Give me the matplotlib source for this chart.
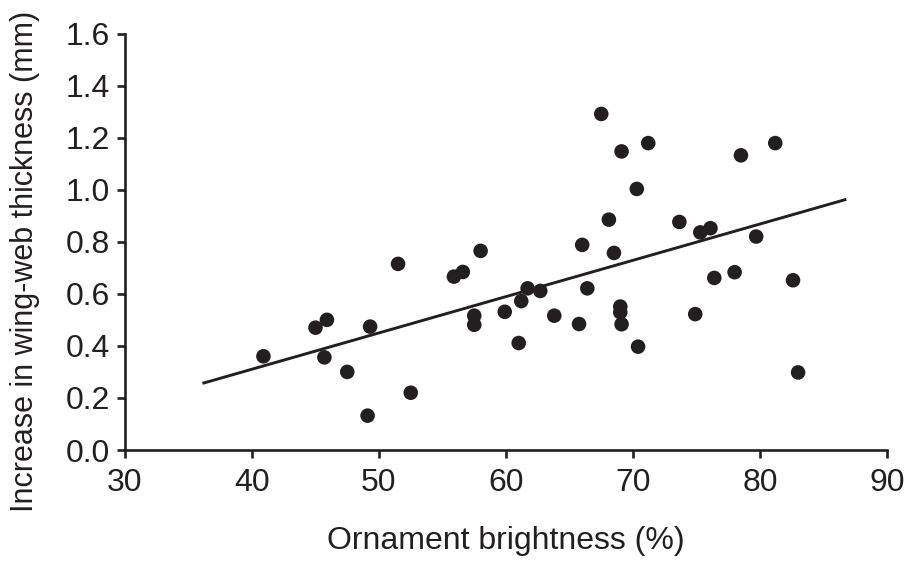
import matplotlib
matplotlib.use("Agg")
import matplotlib.pyplot as plt

brightness = [40.9, 45.0, 45.9, 45.7, 47.5, 49.3, 49.1, 51.5, 52.5, 55.9, 56.6,
              58.0, 57.5, 57.5, 59.9, 61.0, 61.2, 61.7, 62.7, 63.8, 65.75, 66.0,
              66.4, 67.5, 68.1, 68.5, 69.0, 69.0, 69.1, 69.1, 70.3, 70.4, 71.2,
              73.65, 74.9, 75.3, 76.1, 76.4, 78.0, 78.5, 79.7, 81.2, 82.6, 83.0]
thickness = [0.36, 0.47, 0.50, 0.356, 0.30, 0.474, 0.132, 0.715, 0.22, 0.666, 0.684,
             0.765, 0.516, 0.481, 0.531, 0.411, 0.572, 0.621, 0.611, 0.516, 0.484, 0.788,
             0.621, 1.291, 0.885, 0.757, 0.551, 0.529, 0.483, 1.147, 1.003, 0.397, 1.179,
             0.876, 0.522, 0.836, 0.852, 0.661, 0.683, 1.132, 0.820, 1.179, 0.652, 0.298]

fit_x = [36.1, 86.8]
fit_y = [0.256, 0.963]

x_ticks = [30, 40, 50, 60, 70, 80, 90]
y_ticks = [0.0, 0.2, 0.4, 0.6, 0.8, 1.0, 1.2, 1.4, 1.6]

ink = "#231f20"
plt.rcParams['font.family'] = ['Liberation Sans', 'DejaVu Sans']

fig = plt.figure(figsize=(9.09, 5.61), dpi=100)
ax = fig.add_axes([125/909, 1 - 450/561, (887-125)/909, (450-33.5)/561])

ax.scatter(brightness, thickness, s=110, color=ink, edgecolors='none', zorder=3,
           clip_on=False)
ax.plot(fit_x, fit_y, color=ink, lw=2.1, solid_capstyle='butt', zorder=2)

ax.set_xlim(30, 90)
ax.set_ylim(0, 1.6)
ax.set_xticks(x_ticks)
ax.set_yticks(y_ticks)
ax.set_yticklabels([f"{v:.1f}" for v in y_ticks])

for side in ['top', 'right']:
    ax.spines[side].set_visible(False)
for side in ['left', 'bottom']:
    ax.spines[side].set_linewidth(1.9)
    ax.spines[side].set_color(ink)

ax.tick_params(axis='both', direction='out', length=6, width=1.9, color=ink,
               labelsize=23, labelcolor=ink)
ax.tick_params(axis='y', pad=5)
ax.tick_params(axis='x', pad=7)

ax.set_xlabel("Ornament brightness (%)", fontsize=23, color=ink, labelpad=20)
ax.set_ylabel("Increase in wing-web thickness (mm)", fontsize=22, color=ink)
ax.yaxis.set_label_coords(-0.112, 0.454)

fig.savefig("out.png", dpi=100)
